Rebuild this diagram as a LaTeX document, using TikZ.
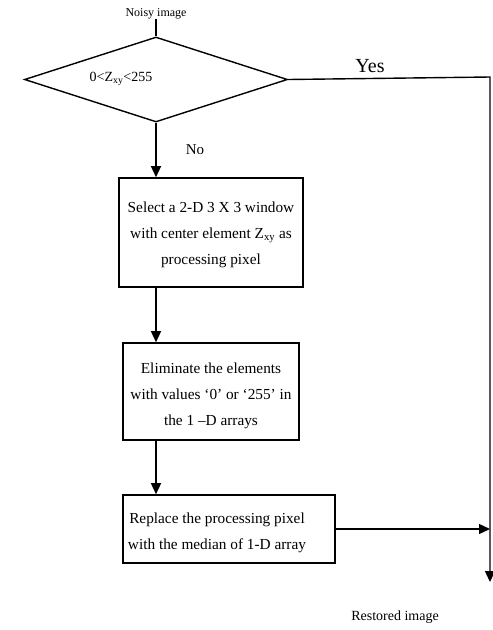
\documentclass[tikz,border=0pt]{standalone}
\usepackage{fontspec}
\setmainfont{Liberation Serif}
\usetikzlibrary{shapes.geometric,arrows.meta}
\begin{document}
\begin{tikzpicture}[x=1pt,y=-1pt,
  ln/.style={line width=1.4pt},
  arr/.style={ln,-{Triangle[length=11pt,width=10pt]}},
  box/.style={draw,line width=1.6pt,inner sep=0pt},
  txt/.style={align=center,inner sep=0pt,font=\fontsize{15.3}{26}\selectfont},
  lbl/.style={inner sep=0pt}]
\useasboundingbox (0,0) rectangle (493,630);
\node[lbl,font=\fontsize{12}{14}\selectfont] (noisy) at (156,14) {Noisy image};
\node[draw,diamond,ln,minimum width=263pt,minimum height=85pt,inner sep=0pt] (d) at (156,79.5) {};
\node[lbl,font=\fontsize{14}{16}\selectfont] (dt) at (121,79) {0<Z\textsubscript{xy}<255};
\node[box,minimum width=184pt,minimum height=109pt] (b1) at (211,232.5) {};
\node[txt] (b1t) at (211,234.5) {Select a 2-D 3 X 3 window\\with center element Z\textsubscript{xy} as\\processing pixel};
\node[box,minimum width=176pt,minimum height=97pt] (b2) at (211,391.5) {};
\node[txt] (b2t) at (211,395.5) {Eliminate the elements\\with values ‘0’ or ‘255’ in\\the 1 –D arrays};
\node[box,minimum width=212pt,minimum height=68pt] (b3) at (229,529) {};
\node[txt] (b3t) at (217,533) {Replace the processing pixel\\with the median of 1-D array};
\coordinate (c) at (490,77);
\coordinate (e) at (490,582);
\draw[ln] (noisy) -- (d.north);
\draw[arr] (d.south) -- (b1.north -| d.south);
\node[lbl,font=\fontsize{15}{17}\selectfont] (no) at (195,150) {No};
\draw[arr] (b1.south -| d.south) -- (b2.north -| d.south);
\draw[arr] (b2.south -| d.south) -- (b3.north -| d.south);
\draw[arr] (d.east) -- (c) -- (e);
\node[lbl,font=\fontsize{20}{22}\selectfont] (yes) at (370,66) {Yes};
\draw[arr] (b3.east) -- (b3.east -| c);
\node[lbl,font=\fontsize{14}{16}\selectfont] (rest) at (395,617) {Restored image};
\end{tikzpicture}
\end{document}
